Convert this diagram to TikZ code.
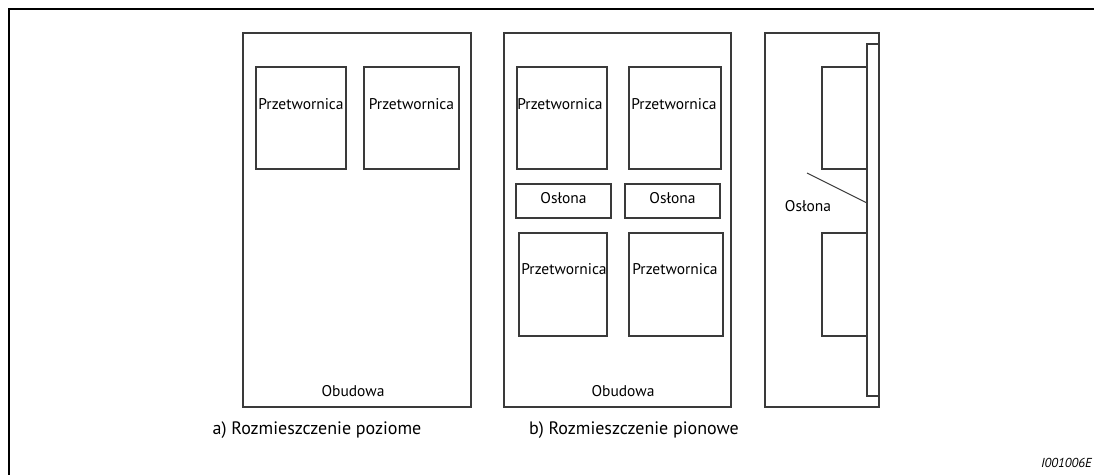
\documentclass[tikz,border=0pt]{standalone}
\usepackage{fontspec}
\setmainfont{PT Sans}
\definecolor{boxgray}{HTML}{3A3A3A}
\begin{document}
\begin{tikzpicture}[x=1pt,y=-1pt,
  box/.style={draw=boxgray, line width=1.1pt, inner sep=0pt, outer sep=0pt, anchor=north west},
  lbl/.style={font=\fontsize{15.5}{18}\selectfont, inner sep=0pt},
  captxt/.style={font=\fontsize{18}{21}\selectfont, inner sep=0pt},
  frameline/.style={line width=2.5pt, black}]
\useasboundingbox (0,0) rectangle (1094,475);
% outer frame
\draw[frameline] (1094,9) -- (9,9) -- (9,475);
% panel a
\node[box, minimum width=228, minimum height=374] (pa) at (243,33) {};
\node[box, minimum width=90, minimum height=102] (a1) at (256,67) {};
\node[box, minimum width=95, minimum height=102] (a2) at (364,67) {};
\node[lbl] (ta1) at (301,104) {Przetwornica};
\node[lbl] (ta2) at (411.5,104) {Przetwornica};
\node[lbl] (oba) at (353,391) {Obudowa};
\node[captxt] (capa) at (317,430) {a) Rozmieszczenie poziome};
% panel b
\node[box, minimum width=227, minimum height=374] (pb) at (504,33) {};
\node[box, minimum width=90, minimum height=102] (b1) at (517,67) {};
\node[box, minimum width=92, minimum height=102] (b2) at (629,67) {};
\node[box, minimum width=95, minimum height=34] (o1) at (516,184) {};
\node[box, minimum width=95, minimum height=34] (o2) at (625,184) {};
\node[box, minimum width=88, minimum height=103] (b3) at (519,233) {};
\node[box, minimum width=94, minimum height=103] (b4) at (629,233) {};
\node[lbl] (tb1) at (560,104) {Przetwornica};
\node[lbl] (tb2) at (674,104) {Przetwornica};
\node[lbl] (to1) at (563.5,198) {Osłona};
\node[lbl] (to2) at (672.5,198) {Osłona};
\node[lbl] (tb3) at (564,269) {Przetwornica};
\node[lbl] (tb4) at (675,269) {Przetwornica};
\node[lbl] (obb) at (623,391) {Obudowa};
\node[captxt] (capb) at (634,430) {b) Rozmieszczenie pionowe};
% side view
\node[box, minimum width=114, minimum height=374] (pc) at (765,33) {};
\node[box, minimum width=12, minimum height=352] (bar) at (867,44) {};
\node[box, minimum width=45, minimum height=102] (s1) at (822,67) {};
\node[box, minimum width=45, minimum height=103] (s2) at (822,233) {};
\coordinate (dstart) at (807,173);
\coordinate (dend) at (867,203);
\draw[boxgray, line width=1.1pt] (dstart) -- (dend);
\node[lbl] (tos) at (808,206) {Osłona};
% figure id
\node[font=\fontsize{13}{15}\selectfont\itshape, inner sep=0pt, anchor=east] (fid) at (1092,463) {I001006E};
\end{tikzpicture}
\end{document}
